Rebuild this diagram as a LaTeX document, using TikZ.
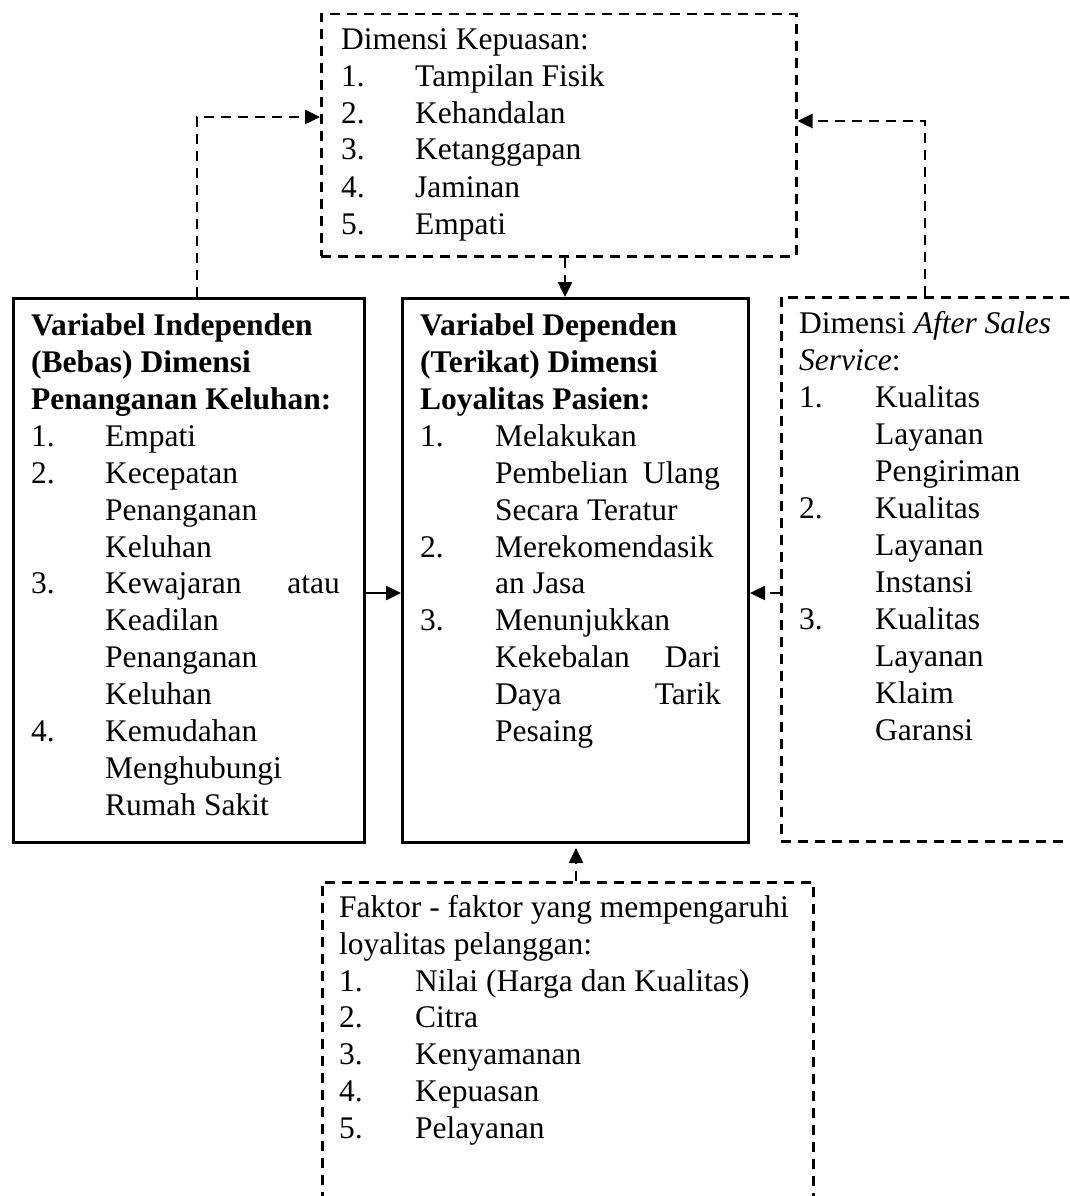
\documentclass[tikz,border=0pt]{standalone}
\usepackage{fontspec}
\setmainfont{Liberation Serif}
\usetikzlibrary{arrows.meta}
\newcommand{\fsz}{\fontsize{31.5}{37}\selectfont}
\begin{document}
\begin{tikzpicture}[x=1pt,y=-1pt,
 txt/.style={anchor=base west,inner sep=0pt,font=\fsz},
 txtr/.style={anchor=base east,inner sep=0pt,font=\fsz},
 solidbox/.style={draw,line width=3pt,rectangle,inner sep=0pt,anchor=north west},
 dashbox/.style={draw,line width=2.5pt,dash pattern=on 10pt off 7pt,rectangle,inner sep=0pt,anchor=north west},
 darr/.style={line width=2.5pt,dash pattern=on 10pt off 7pt,-{Triangle[length=15pt,width=14pt]}},
 sarr/.style={line width=2.5pt,-{Triangle[length=15pt,width=14pt]}}]
\clip (0,0) rectangle (1069,1196);
\fill[white] (0,0) rectangle (1069,1196);
% boxes
\node[dashbox,minimum width=475,minimum height=242] (kep) at (320,13) {};
\node[solidbox,minimum width=351,minimum height=544] (indep) at (12,297) {};
\node[solidbox,minimum width=346,minimum height=544] (dep) at (401,297) {};
\node[dashbox,minimum width=340,minimum height=544] (after) at (780,296) {};
\node[dashbox,minimum width=491,minimum height=340] (fak) at (321,881) {};
% top box text
\node[txt] (k0) at (341,50) {Dimensi Kepuasan:};
\node[txt] (k1n) at (341,87) {1.};  \node[txt] (k1) at (415,87) {Tampilan Fisik};
\node[txt] (k2n) at (341,124) {2.}; \node[txt] (k2) at (415,124) {Kehandalan};
\node[txt] (k3n) at (341,160) {3.}; \node[txt] (k3) at (415,160) {Ketanggapan};
\node[txt] (k4n) at (341,197) {4.}; \node[txt] (k4) at (415,197) {Jaminan};
\node[txt] (k5n) at (341,234) {5.}; \node[txt] (k5) at (415,234) {Empati};
% left box text
\node[txt,font=\fsz\bfseries] (i0) at (31,335) {Variabel Independen};
\node[txt,font=\fsz\bfseries] (i0b) at (31,372) {(Bebas) Dimensi};
\node[txt,font=\fsz\bfseries] (i0c) at (31,409) {Penanganan Keluhan:};
\node[txt] (i1n) at (31,446) {1.}; \node[txt] (i1) at (105,446) {Empati};
\node[txt] (i2n) at (31,483) {2.}; \node[txt] (i2) at (105,483) {Kecepatan};
\node[txt] (i2b) at (105,520) {Penanganan};
\node[txt] (i2c) at (105,557) {Keluhan};
\node[txt] (i3n) at (31,593) {3.}; \node[txt] (i3) at (105,593) {Kewajaran};
\node[txtr] (i3r) at (340,593) {atau};
\node[txt] (i3b) at (105,630) {Keadilan};
\node[txt] (i3c) at (105,667) {Penanganan};
\node[txt] (i3d) at (105,704) {Keluhan};
\node[txt] (i4n) at (31,741) {4.}; \node[txt] (i4) at (105,741) {Kemudahan};
\node[txt] (i4b) at (105,778) {Menghubungi};
\node[txt] (i4c) at (105,815) {Rumah Sakit};
% middle box text
\node[txt,font=\fsz\bfseries] (d0) at (420,335) {Variabel Dependen};
\node[txt,font=\fsz\bfseries] (d0b) at (420,372) {(Terikat) Dimensi};
\node[txt,font=\fsz\bfseries] (d0c) at (420,409) {Loyalitas Pasien:};
\node[txt] (d1n) at (420,446) {1.}; \node[txt] (d1) at (495,446) {Melakukan};
\node[txt] (d1b) at (495,483) {Pembelian}; \node[txtr] (d1br) at (720,483) {Ulang};
\node[txt] (d1c) at (495,520) {Secara Teratur};
\node[txt] (d2n) at (420,557) {2.}; \node[txt] (d2) at (495,557) {Merekomendasik};
\node[txt] (d2b) at (495,593) {an Jasa};
\node[txt] (d3n) at (420,630) {3.}; \node[txt] (d3) at (495,630) {Menunjukkan};
\node[txt] (d3b) at (495,667) {Kekebalan}; \node[txtr] (d3br) at (721,667) {Dari};
\node[txt] (d3c) at (495,704) {Daya}; \node[txtr] (d3cr) at (721,704) {Tarik};
\node[txt] (d3d) at (495,741) {Pesaing};
% after sales text
\node[txt] (a0) at (799,333) {Dimensi \textit{After Sales}};
\node[txt] (a0b) at (799,370) {\textit{Service}:};
\node[txt] (a1n) at (799,407) {1.}; \node[txt] (a1) at (875,407) {Kualitas};
\node[txt] (a1b) at (875,444) {Layanan};
\node[txt] (a1c) at (875,481) {Pengiriman};
\node[txt] (a2n) at (799,518) {2.}; \node[txt] (a2) at (875,518) {Kualitas};
\node[txt] (a2b) at (875,555) {Layanan};
\node[txt] (a2c) at (875,592) {Instansi};
\node[txt] (a3n) at (799,629) {3.}; \node[txt] (a3) at (875,629) {Kualitas};
\node[txt] (a3b) at (875,666) {Layanan};
\node[txt] (a3c) at (875,703) {Klaim};
\node[txt] (a3d) at (875,740) {Garansi};
% bottom box text
\node[txt] (f0) at (339,917) {Faktor - faktor yang mempengaruhi};
\node[txt] (f0b) at (339,954) {loyalitas pelanggan:};
\node[txt] (f1n) at (339,991) {1.};  \node[txt] (f1) at (415,991) {Nilai (Harga dan Kualitas)};
\node[txt] (f2n) at (339,1027) {2.}; \node[txt] (f2) at (415,1027) {Citra};
\node[txt] (f3n) at (339,1064) {3.}; \node[txt] (f3) at (415,1064) {Kenyamanan};
\node[txt] (f4n) at (339,1101) {4.}; \node[txt] (f4) at (415,1101) {Kepuasan};
\node[txt] (f5n) at (339,1138) {5.}; \node[txt] (f5) at (415,1138) {Pelayanan};
% connectors
\coordinate (c1) at (197,117);
\draw[darr] (indep.north -| c1) -- (c1) -- (kep.west |- c1);
\coordinate (c2) at (925,121);
\draw[darr] (after.north -| c2) -- (c2) -- (kep.east |- c2);
\coordinate (c3) at (565,0);
\draw[darr] (kep.south -| c3) -- (dep.north -| c3);
\coordinate (c4) at (0,593);
\draw[sarr] (indep.east |- c4) -- (dep.west |- c4);
\draw[darr] (after.west |- c4) -- (dep.east |- c4);
\coordinate (c5) at (576,0);
\coordinate (c6) at (576,848);
\draw[darr] (fak.north -| c5) -- (c6);
\end{tikzpicture}
\end{document}
